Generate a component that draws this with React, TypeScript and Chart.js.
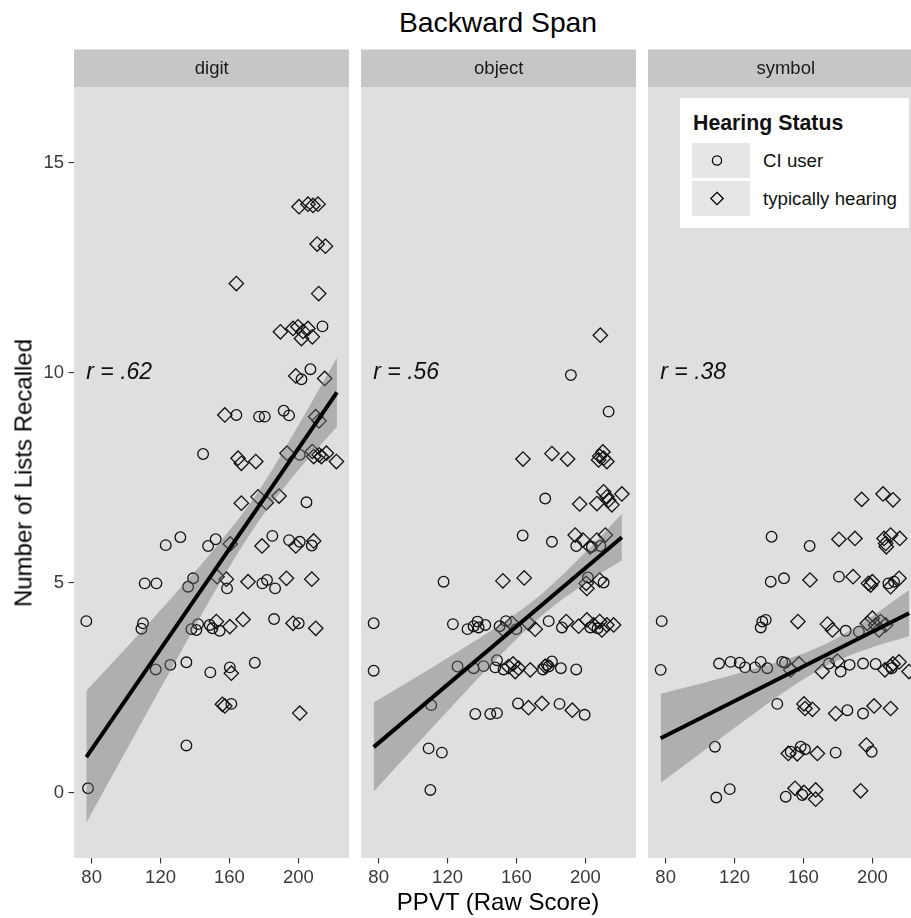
import React, { useEffect, useRef } from "react";
import { Chart, registerables } from "chart.js";

Chart.register(...registerables);

const FONT = '"Liberation Sans", Arial, Helvetica, sans-serif';

// ---------- data ----------
const panelNames = ["digit", "object", "symbol"];
const rLabels = ["r = .62", "r = .56", "r = .38"];
const rLabelPos = [96, 10]; // data coords (x, y) of the r annotations
const xTicks = [80, 120, 160, 200];
const yTicks = [0, 5, 10, 15];
const legendTitle = "Hearing Status";
const groupNames = ["CI user", "typically hearing"];

// digit
const digitCI: [number, number][] = [
  [214.0, 11.1], [207.0, 10.08], [201.8, 9.84], [164.0, 8.99], [177.2, 8.95], [180.5, 8.95],
  [191.5, 9.09], [194.6, 8.98], [144.7, 8.06], [200.8, 8.04], [204.7, 6.91], [123.0, 5.89],
  [131.5, 6.08], [147.6, 5.87], [152.0, 6.03], [184.9, 6.11], [194.6, 6.01], [200.8, 5.97],
  [207.8, 5.88], [110.8, 4.98], [117.6, 4.98], [138.9, 5.1], [136.0, 4.9], [158.6, 4.86],
  [179.1, 4.98], [181.8, 5.06], [186.5, 4.86], [76.9, 4.08], [109.8, 4.03], [108.9, 3.9],
  [137.9, 3.89], [141.8, 4.01], [140.8, 3.87], [148.5, 3.99], [150.1, 3.91], [154.3, 3.85],
  [185.9, 4.13], [200.2, 4.03], [117.2, 2.93], [125.7, 3.04], [135.0, 3.1], [148.9, 2.86],
  [160.2, 2.98], [174.7, 3.09], [161.1, 2.11], [135.0, 1.12], [77.9, 0.1],
];
const digitTH: [number, number][] = [
  [200.4, 13.95], [205.6, 14.01], [208.5, 13.98], [211.4, 14.01], [210.9, 13.06], [215.7, 13.01],
  [164.0, 12.12], [211.8, 11.88], [189.6, 10.97], [196.9, 11.05], [199.8, 11.09], [202.7, 10.98],
  [201.8, 10.81], [205.6, 11.05], [208.1, 10.85], [198.5, 9.92], [215.3, 9.86], [157.3, 8.99],
  [210.1, 8.95], [212.0, 8.85], [165.0, 7.96], [166.9, 7.84], [175.3, 7.88], [193.4, 8.08],
  [208.1, 8.12], [208.9, 8.0], [212.0, 8.04], [213.4, 8.0], [216.3, 8.08], [222.1, 7.88],
  [166.9, 6.89], [176.6, 7.04], [181.4, 6.9], [188.8, 7.06], [160.5, 5.92], [178.9, 5.87],
  [198.5, 5.87], [208.9, 5.99], [152.8, 5.14], [158.2, 5.08], [170.8, 5.02], [193.1, 5.1],
  [207.8, 5.08], [152.4, 4.07], [160.2, 3.95], [167.9, 4.12], [196.9, 4.03], [210.1, 3.91],
  [161.1, 2.84], [155.9, 2.1], [157.3, 2.06], [200.8, 1.89],
];
const digitFitX = [76.9, 222.4];
const digitFitY = [0.84, 9.53];
const digitBandX = [76.9, 100, 125, 150, 175, 200, 222.4];
const digitBandLo = [-0.72, 1.0, 2.85, 4.68, 6.34, 7.68, 8.71];
const digitBandHi = [2.42, 3.44, 4.57, 5.74, 7.06, 8.74, 10.35];

// object
const objectCI: [number, number][] = [
  [191.6, 9.94], [213.5, 9.07], [176.7, 7.0], [163.6, 6.12], [180.6, 5.97], [194.7, 5.87],
  [203.8, 5.85], [208.7, 5.87], [117.7, 5.02], [201.5, 5.12], [210.6, 5.0], [77.1, 4.03],
  [123.1, 4.01], [131.6, 3.89], [135.1, 3.96], [137.4, 4.07], [138.0, 3.93], [141.9, 3.99],
  [150.2, 3.96], [153.9, 4.08], [159.9, 3.89], [178.7, 4.08], [186.4, 3.93], [202.9, 3.93],
  [207.1, 3.91], [77.1, 2.9], [125.8, 3.0], [135.1, 2.96], [140.9, 3.01], [148.7, 3.15],
  [147.7, 2.98], [152.5, 2.93], [175.4, 2.93], [177.7, 3.04], [180.6, 3.12], [178.7, 3.0],
  [185.8, 2.96], [194.7, 2.93], [110.5, 2.08], [136.1, 1.87], [144.8, 1.87], [148.7, 1.89],
  [160.9, 2.12], [185.0, 2.11], [199.6, 1.85], [109.0, 1.05], [116.7, 0.95], [110.0, 0.06],
];
const objectTH: [number, number][] = [
  [208.7, 10.89], [163.8, 7.94], [180.6, 8.07], [189.7, 7.94], [208.3, 8.01], [210.2, 8.11],
  [207.7, 7.92], [212.5, 7.88], [210.6, 7.96], [196.7, 6.87], [206.7, 6.88], [210.6, 7.16],
  [213.5, 6.96], [215.4, 6.85], [221.2, 7.11], [212.5, 7.04], [194.1, 6.13], [198.6, 6.01],
  [202.8, 5.85], [206.7, 6.01], [211.6, 6.13], [152.1, 5.04], [164.5, 5.11], [200.5, 4.98],
  [200.9, 4.86], [208.3, 5.06], [152.1, 3.89], [157.4, 4.03], [167.0, 4.03], [170.9, 3.89],
  [188.9, 4.07], [196.1, 3.96], [200.9, 4.11], [204.8, 3.99], [208.3, 4.07], [209.6, 3.87],
  [212.5, 3.99], [216.4, 3.99], [155.4, 3.0], [158.0, 3.06], [159.3, 2.88], [161.2, 2.96],
  [168.0, 2.92], [176.7, 3.01], [167.0, 2.02], [174.8, 2.12], [192.4, 1.96],
];
const objectFitX = [77.1, 221.2];
const objectFitY = [1.08, 6.08];
const objectBandX = [77.1, 100, 125, 150, 175, 200, 221.2];
const objectBandLo = [0.02, 1.05, 2.16, 3.24, 4.22, 4.98, 5.53];
const objectBandHi = [2.14, 2.7, 3.33, 3.98, 4.74, 5.72, 6.64];

// symbol
const symbolCI: [number, number][] = [
  [141.5, 6.09], [163.6, 5.87], [141.0, 5.02], [148.7, 5.1], [180.6, 5.14], [212.6, 5.02],
  [209.3, 4.98], [77.7, 4.08], [135.2, 3.93], [136.1, 4.07], [138.1, 4.11], [184.5, 3.85],
  [192.2, 3.83], [77.1, 2.92], [111.0, 3.07], [117.7, 3.11], [123.0, 3.09], [126.1, 2.98],
  [131.9, 2.98], [135.2, 3.11], [139.0, 2.96], [147.7, 3.11], [149.3, 3.09], [174.8, 3.07],
  [181.6, 2.88], [186.8, 3.04], [194.6, 3.07], [201.9, 3.06], [211.2, 2.96], [144.8, 2.11],
  [185.5, 1.96], [194.6, 1.88], [108.6, 1.09], [152.6, 0.97], [158.4, 1.09], [160.9, 1.03],
  [178.7, 0.95], [199.6, 0.97], [109.4, -0.12], [117.2, 0.08], [149.7, -0.1], [159.3, -0.06],
];
const symbolTH: [number, number][] = [
  [193.8, 6.98], [206.2, 7.11], [212.0, 6.97], [180.6, 6.03], [189.9, 6.05], [206.8, 6.05],
  [207.7, 5.93], [210.6, 6.13], [208.1, 5.85], [215.9, 6.05], [163.8, 5.06], [188.8, 5.14],
  [197.7, 4.98], [199.0, 4.94], [200.0, 5.02], [210.6, 4.9], [215.5, 5.1], [156.8, 4.07],
  [173.9, 4.01], [176.8, 3.87], [197.1, 4.03], [200.0, 4.15], [201.9, 3.99], [204.8, 4.07],
  [207.7, 3.99], [203.9, 3.87], [152.6, 2.92], [157.4, 3.06], [170.9, 2.88], [179.7, 3.13],
  [207.3, 2.92], [210.6, 3.0], [212.0, 3.06], [215.5, 3.11], [221.3, 2.88], [160.3, 2.11],
  [160.9, 2.0], [165.2, 1.98], [178.7, 1.88], [201.0, 2.06], [210.6, 2.0], [151.2, 0.93],
  [156.4, 0.92], [168.1, 0.93], [196.5, 1.13], [155.1, 0.1], [160.3, 0.0], [167.1, 0.06],
  [167.1, -0.16], [193.2, 0.04],
];
const symbolFitX = [77.1, 221.3];
const symbolFitY = [1.29, 4.27];
const symbolBandX = [77.1, 100, 125, 150, 175, 200, 221.3];
const symbolBandLo = [0.23, 0.93, 1.69, 2.43, 3.05, 3.46, 3.72];
const symbolBandHi = [2.35, 2.59, 2.87, 3.17, 3.58, 4.2, 4.82];

const panels = [
  { ci: digitCI, th: digitTH, fx: digitFitX, fy: digitFitY, bx: digitBandX, lo: digitBandLo, hi: digitBandHi },
  { ci: objectCI, th: objectTH, fx: objectFitX, fy: objectFitY, bx: objectBandX, lo: objectBandLo, hi: objectBandHi },
  { ci: symbolCI, th: symbolTH, fx: symbolFitX, fy: symbolFitY, bx: symbolBandX, lo: symbolBandLo, hi: symbolBandHi },
];

// ---------- style / layout ----------
const X_MIN = 69.75;
const PX_PER_X = 1.7225;
const Y_MIN = -1.56;
const Y_MAX = 16.8;
const STRIP_H = 37.5;
const FULL_PANEL_W = 275.5;
const CANVAS_TOP = 49;
const CANVAS_H = 869;
const PANEL_BG = "#dfdfdf";
const STRIP_BG = "#c6c6c6";
const BAND = "rgba(110,110,110,0.42)";
const INK = "#111111";
const TICK_COLOR = "#3a3a3a";

const layout = [
  { left: 0, width: 349, yAxis: true, areaLeft: 74 },
  { left: 361, width: 275, yAxis: false, areaLeft: 0 },
  { left: 648, width: 263, yAxis: false, areaLeft: 0 },
];

function Panel({ idx }: { idx: number }) {
  const ref = useRef<HTMLCanvasElement>(null);
  const L = layout[idx];
  useEffect(() => {
    const p = panels[idx];
    const areaW = L.width - L.areaLeft;
    const xMax = X_MIN + areaW / PX_PER_X;
    const toPts = (arr: [number, number][]) => arr.map(([x, y]) => ({ x, y }));
    const panelPlugin = {
      id: "panelDeco" + idx,
      beforeDraw(chart: any) {
        const { ctx, chartArea: a } = chart;
        ctx.save();
        ctx.fillStyle = PANEL_BG;
        ctx.fillRect(a.left, a.top, a.right - a.left, a.bottom - a.top);
        ctx.fillStyle = STRIP_BG;
        ctx.fillRect(a.left, a.top - STRIP_H, a.right - a.left, STRIP_H);
        ctx.fillStyle = "#1a1a1a";
        ctx.font = `18.5px ${FONT}`;
        ctx.textAlign = "center";
        ctx.textBaseline = "middle";
        ctx.fillText(panelNames[idx], a.left + FULL_PANEL_W / 2, a.top - STRIP_H / 2 + 1);
        ctx.restore();
      },
      afterDatasetsDraw(chart: any) {
        const { ctx } = chart;
        const x = chart.scales.x.getPixelForValue(rLabelPos[0]);
        const y = chart.scales.y.getPixelForValue(rLabelPos[1]);
        ctx.save();
        ctx.fillStyle = INK;
        ctx.font = `italic 23px ${FONT}`;
        ctx.textAlign = "center";
        ctx.textBaseline = "middle";
        ctx.fillText(rLabels[idx], x, y);
        ctx.restore();
      },
    };
    const tickFont = { family: FONT, size: 18.5 };
    const chart = new Chart(ref.current as HTMLCanvasElement, {
      type: "scatter",
      data: {
        datasets: [
          {
            type: "line",
            data: p.fx.map((x, i) => ({ x, y: p.fy[i] })),
            borderColor: "#000",
            borderWidth: 4,
            pointRadius: 0,
            fill: false,
            borderCapStyle: "butt",
          } as any,
          {
            type: "line",
            data: p.bx.map((x, i) => ({ x, y: p.lo[i] })),
            borderColor: "rgba(0,0,0,0)",
            borderWidth: 0,
            pointRadius: 0,
            fill: false,
            cubicInterpolationMode: "monotone",
          } as any,
          {
            type: "line",
            data: p.bx.map((x, i) => ({ x, y: p.hi[i] })),
            borderColor: "rgba(0,0,0,0)",
            borderWidth: 0,
            pointRadius: 0,
            fill: "-1",
            backgroundColor: BAND,
            cubicInterpolationMode: "monotone",
          } as any,
          {
            label: groupNames[0],
            data: toPts(p.ci),
            pointStyle: "circle",
            pointRadius: 5.3,
            pointHoverRadius: 5.3,
            borderColor: INK,
            borderWidth: 1.3,
            backgroundColor: "rgba(0,0,0,0)",
          },
          {
            label: groupNames[1],
            data: toPts(p.th),
            pointStyle: "rectRot",
            pointRadius: 7.2,
            pointHoverRadius: 7.2,
            borderColor: INK,
            borderWidth: 1.3,
            backgroundColor: "rgba(0,0,0,0)",
          },
        ],
      },
      options: {
        animation: false,
        responsive: false,
        events: [],
        layout: { padding: { top: STRIP_H + 0.5, left: 0, right: 0, bottom: 0 }, autoPadding: false },
        plugins: { legend: { display: false }, tooltip: { enabled: false } },
        scales: {
          x: {
            type: "linear",
            min: X_MIN,
            max: xMax,
            afterBuildTicks: (s: any) => {
              s.ticks = xTicks.map((v) => ({ value: v }));
            },
            afterFit: (s: any) => {
              s.height = 60;
            },
            grid: { display: true, drawOnChartArea: false, drawTicks: true, tickLength: 5.5, color: "#333", lineWidth: 1.1 },
            border: { display: false },
            ticks: { font: tickFont, color: TICK_COLOR, padding: 3.5, maxRotation: 0, autoSkip: false, callback: (v: any) => String(v) },
          },
          y: {
            type: "linear",
            display: L.yAxis,
            min: Y_MIN,
            max: Y_MAX,
            afterBuildTicks: (s: any) => {
              s.ticks = yTicks.map((v) => ({ value: v }));
            },
            afterFit: (s: any) => {
              if (L.yAxis) s.width = L.areaLeft;
            },
            grid: { display: true, drawOnChartArea: false, drawTicks: true, tickLength: 5.5, color: "#333", lineWidth: 1.1 },
            border: { display: false },
            ticks: { font: tickFont, color: TICK_COLOR, padding: 4.5, autoSkip: false, callback: (v: any) => String(v) },
          },
        },
      } as any,
      plugins: [panelPlugin],
    });
    return () => chart.destroy();
  }, []);
  return (
    <canvas
      ref={ref}
      width={L.width}
      height={CANVAS_H}
      style={{ position: "absolute", left: L.left, top: CANVAS_TOP, width: L.width, height: CANVAS_H }}
    />
  );
}

function Legend() {
  return (
    <div
      style={{
        position: "absolute",
        left: 680,
        top: 98,
        width: 229,
        height: 130,
        background: "#ffffff",
        fontFamily: FONT,
        color: "#111",
      }}
    >
      <div style={{ position: "absolute", left: 13, top: 15, fontSize: 21.3, fontWeight: "bold", lineHeight: "21px", whiteSpace: "nowrap" }}>
        {legendTitle}
      </div>
      {groupNames.map((g, i) => (
        <React.Fragment key={g}>
          <div style={{ position: "absolute", left: 12, top: 45 + i * 38, width: 58, height: 35, background: "#e6e6e6" }}>
            <svg width={58} height={35} style={{ display: "block" }}>
              {i === 0 ? (
                <circle cx={25} cy={17.5} r={4.6} fill="none" stroke="#000" strokeWidth={1.3} />
              ) : (
                <polygon points="25,11.3 31.2,17.5 25,23.7 18.8,17.5" fill="none" stroke="#000" strokeWidth={1.3} />
              )}
            </svg>
          </div>
          <div style={{ position: "absolute", left: 83, top: 45 + i * 38, height: 35, lineHeight: "35px", fontSize: 18.7, whiteSpace: "nowrap" }}>
            {g}
          </div>
        </React.Fragment>
      ))}
    </div>
  );
}

export default function App() {
  return (
    <div
      style={{
        position: "fixed",
        left: 0,
        top: 0,
        width: 911,
        height: 918,
        overflow: "hidden",
        background: "#ffffff",
        fontFamily: FONT,
      }}
    >
      <div
        style={{
          position: "absolute",
          left: 498,
          top: 8,
          transform: "translateX(-50%)",
          fontSize: 28.3,
          lineHeight: "28.3px",
          whiteSpace: "nowrap",
          color: "#000",
        }}
      >
        Backward Span
      </div>
      <Panel idx={0} />
      <Panel idx={1} />
      <Panel idx={2} />
      <Legend />
      <div
        style={{
          position: "absolute",
          left: 23 - 385.5,
          top: 472.5 - 12,
          width: 771,
          height: 24,
          lineHeight: "24px",
          fontSize: 24,
          textAlign: "center",
          transform: "rotate(-90deg)",
          whiteSpace: "nowrap",
          color: "#000",
        }}
      >
        Number of Lists Recalled
      </div>
      <div
        style={{
          position: "absolute",
          left: 498,
          top: 889.7,
          transform: "translateX(-50%)",
          fontSize: 24,
          lineHeight: "24px",
          whiteSpace: "nowrap",
          color: "#000",
        }}
      >
        PPVT (Raw Score)
      </div>
    </div>
  );
}
